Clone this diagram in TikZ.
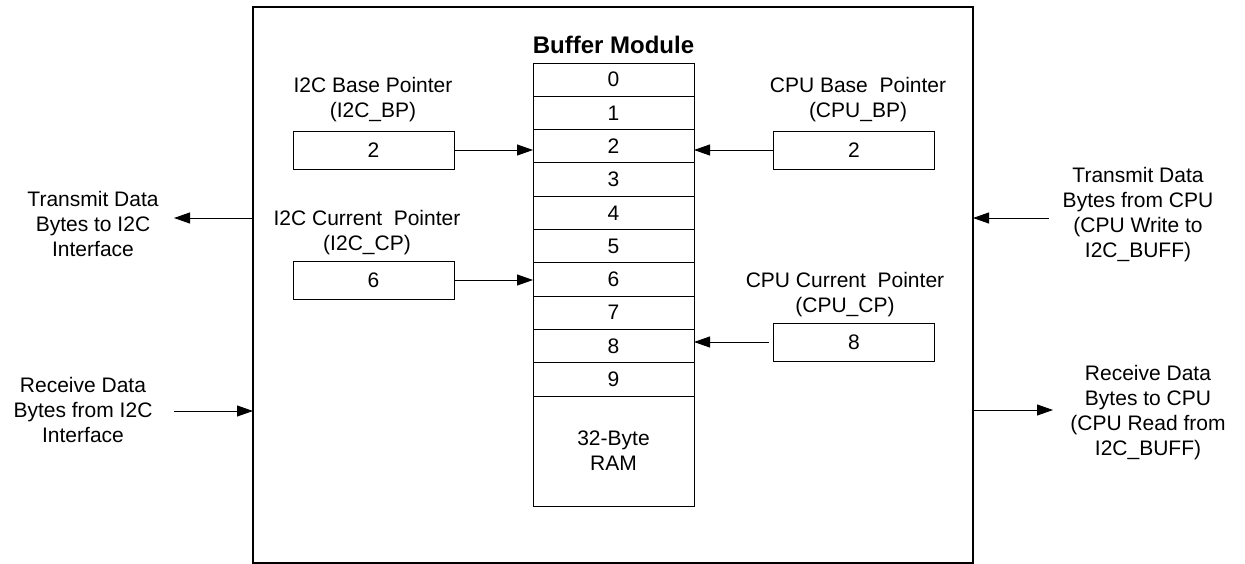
\documentclass[tikz,border=0pt]{standalone}
\usepackage{fontspec}
\setmainfont{Liberation Sans}
\usepackage{tikz}
\usetikzlibrary{arrows.meta,positioning}

\begin{document}
\begin{tikzpicture}[x=1pt, y=-1pt,
		txt/.style={align=center, inner sep=0pt, font=\fontsize{21}{25}\selectfont},
		cell/.style={draw, line width=0.9pt, rectangle, minimum width=161pt, minimum height=33.3pt, inner sep=0pt, outer sep=0pt, font=\fontsize{21}{25}\selectfont},
		ptr/.style={draw, line width=0.9pt, rectangle, minimum width=161pt, minimum height=38pt, inner sep=0pt, outer sep=0pt, font=\fontsize{21}{25}\selectfont},
		arr/.style={line width=0.9pt, -{Triangle[length=16pt, width=11pt]}}]
				\useasboundingbox (0,0) rectangle (1245,564);
				\node[draw, line width=1.2pt, rectangle, minimum width=720pt, minimum height=556pt, inner sep=0pt, outer sep=0pt] (buf) at (613,285) {};
				\node[txt, font=\fontsize{24}{28}\selectfont\bfseries] (title) at (613.5,45) {Buffer Module};
				\foreach \i in {0,...,9}
					\node[cell] (r\i) at (613.5,79.65+33.3*\i) {\i};
				\node[cell, minimum height=110pt, align=center, anchor=north] (ram) at (r9.south) {32-Byte\\RAM};
				\node[ptr] (i2cbp) at (373.5,150) {2};
				\node[ptr] (i2ccp) at (373.5,280) {6};
				\node[ptr] (cpubp) at (854,150) {2};
				\node[ptr] (cpucp) at (854,342) {8};
				\node[txt] (i2cbpl) at (373,99.5) {I2C Base Pointer\\(I2C\_BP)};
				\node[txt] (i2ccpl) at (367,233) {I2C Current\ \ Pointer\\(I2C\_CP)};
				\node[txt] (cpubpl) at (858,99.5) {CPU Base\ \ Pointer\\(CPU\_BP)};
				\node[txt] (cpucpl) at (845,295) {CPU Current\ \ Pointer\\(CPU\_CP)};
				\node[txt] (txi2c) at (93,224) {Transmit Data\\Bytes to I2C\\Interface};
				\node[txt] (rxi2c) at (83,410) {Receive Data\\Bytes from I2C\\Interface};
				\node[txt] (txcpu) at (1138,214.5) {Transmit Data\\Bytes from CPU\\(CPU Write to\\I2C\_BUFF)};
				\node[txt] (rxcpu) at (1148,412.5) {Receive Data\\Bytes to CPU\\(CPU Read from\\I2C\_BUFF)};
				\coordinate (txl) at (174,218);
				\coordinate (rxl) at (174,411);
				\coordinate (txr) at (1049,218);
				\coordinate (rxr) at (1053,410);
				\draw[arr] (i2cbp) -- (i2cbp -| r2.west);
				\draw[arr] (i2ccp) -- (i2ccp -| r6.west);
				\draw[arr] (cpubp) -- (cpubp -| r2.east);
				\draw[arr] (cpucp.west) ++(-5,0) -- (cpucp -| r8.east);
				\draw[arr] (buf.west |- txl) -- (txl);
				\draw[arr] (rxl) -- (buf.west |- rxl);
				\draw[arr] (txr) -- (buf.east |- txr);
				\draw[arr] (buf.east |- rxr) -- (rxr);
\end{tikzpicture}
\end{document}
